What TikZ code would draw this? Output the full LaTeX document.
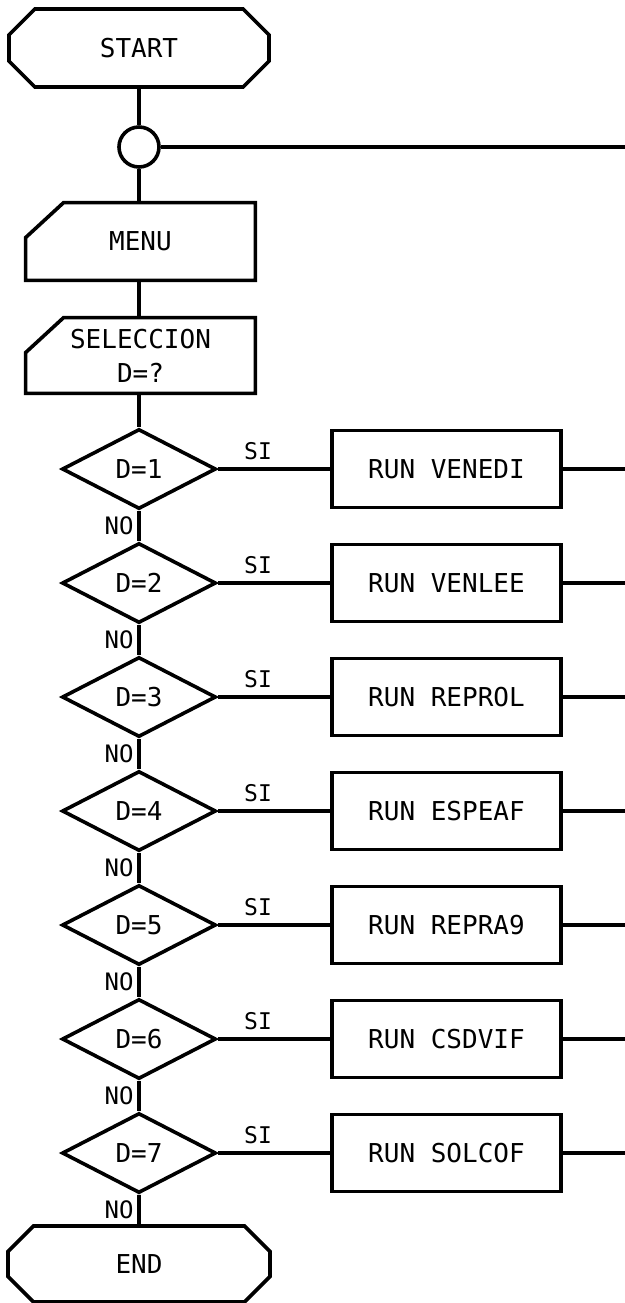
\documentclass[tikz,border=0pt]{standalone}
\usepackage{fontspec}
\setmonofont{DejaVu Sans Mono}
\usepackage{tikz}
\usetikzlibrary{shapes.geometric,shapes.misc}
\tikzset{
  lnw/.style={line width=1.8pt},
  pfont/.style={font=\ttfamily\fontsize{13}{17}\selectfont},
  termbox/.style={chamfered rectangle,chamfered rectangle xsep=10pt,
    chamfered rectangle ysep=8pt,draw,lnw,inner sep=0pt,pfont,
    minimum width=130pt,minimum height=39pt},
  cardbox/.style={rectangle,inner sep=0pt,pfont,align=center,
    minimum width=114.5pt},
  decbox/.style={diamond,draw,lnw,inner sep=0pt,pfont,
    minimum width=77pt,minimum height=40pt},
  runbox/.style={rectangle,draw,lnw,inner sep=0pt,pfont,
    minimum width=114.5pt,minimum height=38.5pt},
  joinpt/.style={circle,draw,lnw,inner sep=0pt,minimum size=20pt},
  silab/.style={font=\ttfamily\fontsize{11.5}{13}\selectfont},
  nolab/.style={font=\ttfamily\fontsize{12}{14}\selectfont},
}
\begin{document}
\begin{tikzpicture}[x=0.5pt,y=-0.5pt]
  \useasboundingbox (0,0) rectangle (625,1303);
  % cabecera
  \node[termbox] (start) at (139,48) {START};
  \node[joinpt] (joint) at (139,147) {};
  \coordinate (jr) at (625,147);
  \node[cardbox,minimum height=38.5pt] (menu) at (140.5,241.5) {MENU};
  \node[cardbox,minimum height=37.5pt] (sel) at (140.5,355.5) {SELECCION\\D=?};
  % tarjetas con esquina cortada
  \foreach \c in {menu,sel}{%
    \draw[lnw] (\c.south west) -- ([yshift=-17.5pt]\c.north west)
      -- ([xshift=19pt]\c.north west) -- (\c.north east)
      -- (\c.south east) -- cycle;}
  \draw[lnw] (start) -- (joint);
  \draw[lnw] (joint) -- (jr);
  \draw[lnw] (joint) -- (menu.north -| joint);
  \draw[lnw] (menu.south -| joint) -- (sel.north -| joint);
  % opciones D=1..7
  \foreach \i/\prg in {1/VENEDI,2/VENLEE,3/REPROL,4/ESPEAF,5/REPRA9,6/CSDVIF,7/SOLCOF}{%
    \pgfmathsetmacro{\yy}{469+114*(\i-1)}
    \node[decbox] (d\i) at (139,\yy) {D=\i};
    \node[runbox] (r\i) at (446.5,\yy) {RUN \prg};
    \coordinate (e\i) at (625,\yy);
    \draw[lnw] (d\i) -- (r\i);
    \draw[lnw] (r\i) -- (e\i);
    \node[silab] (si\i) at (258,\yy-18) {SI};
    \node[nolab,anchor=east,inner sep=1pt] (no\i) at (136,\yy+57) {NO};
  }
  \draw[lnw] (sel.south -| d1) -- (d1);
  \foreach \i [evaluate=\i as \j using int(\i+1)] in {1,...,6}{%
    \draw[lnw] (d\i) -- (d\j);}
  % fin
  \node[termbox,minimum width=131pt,minimum height=38pt] (end) at (139,1264) {END};
  \draw[lnw] (d7) -- (end);
\end{tikzpicture}
\end{document}
